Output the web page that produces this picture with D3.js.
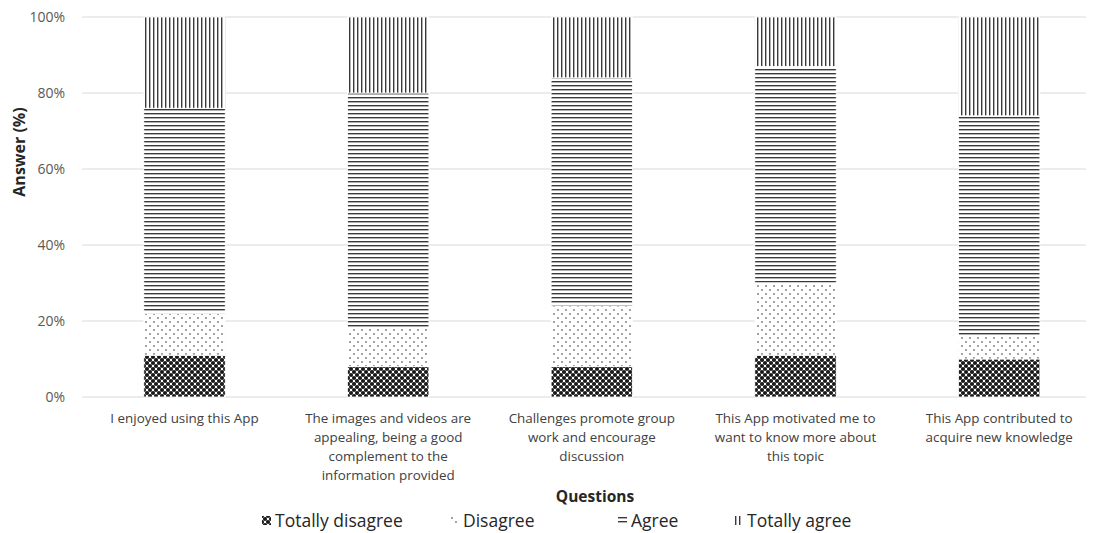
<!DOCTYPE html>
<html>
<head>
<meta charset="utf-8">
<script src="https://cdn.jsdelivr.net/npm/d3@7"></script>
<style>
  body { margin: 0; background: #fff; }
  svg { display: block; font-family: "Open Sans", "Noto Sans", sans-serif; }
</style>
</head>
<body>
<div id="chart"></div>
<script>
const categories = [
  ["I enjoyed using this App"],
  ["The images and videos are", "appealing, being a good", "complement to the", "information provided"],
  ["Challenges promote group", "work and encourage", "discussion"],
  ["This App motivated me to", "want to know more about", "this topic"],
  ["This App contributed to", "acquire new knowledge"]
];
const seriesNames = ["Totally disagree", "Disagree", "Agree", "Totally agree"];
const totallyDisagree = [11, 8, 8, 11, 10];
const disagree = [11, 10, 16, 19, 6];
const agree = [54, 62, 60, 57, 58];
const totallyAgree = [24, 20, 16, 13, 26];
const yTicks = [0, 20, 40, 60, 80, 100];

const keys = ["td", "d", "a", "ta"];
const rows = categories.map((c, i) => ({
  idx: i,
  td: totallyDisagree[i],
  d: disagree[i],
  a: agree[i],
  ta: totallyAgree[i]
}));

const width = 1094;
const height = 533;
const margin = { top: 17, right: 8, bottom: 136, left: 82 };

const svg = d3.select("#chart")
  .append("svg")
  .attr("width", width)
  .attr("height", height);

// fill patterns
const defs = svg.append("defs");

const pTd = defs.append("pattern").attr("id", "p-td")
  .attr("patternUnits", "userSpaceOnUse").attr("width", 6).attr("height", 6);
pTd.append("rect").attr("width", 6).attr("height", 6).attr("fill", "#fff");
[[0, 0], [6, 0], [0, 6], [6, 6], [3, 3]].forEach(([cx, cy]) => {
  pTd.append("circle").attr("cx", cx).attr("cy", cy).attr("r", 2.1).attr("fill", "#1a1a1a");
});

const pD = defs.append("pattern").attr("id", "p-d")
  .attr("patternUnits", "userSpaceOnUse").attr("width", 8).attr("height", 8);
pD.append("rect").attr("width", 8).attr("height", 8).attr("fill", "#fff");
[[2, 2], [6, 6]].forEach(([cx, cy]) => {
  pD.append("circle").attr("cx", cx).attr("cy", cy).attr("r", 0.9).attr("fill", "#777");
});

const pA = defs.append("pattern").attr("id", "p-a")
  .attr("patternUnits", "userSpaceOnUse").attr("width", 4).attr("height", 4);
pA.append("rect").attr("width", 4).attr("height", 4).attr("fill", "#fff");
pA.append("rect").attr("y", 1).attr("width", 4).attr("height", 1.4).attr("fill", "#3a3a3a");

const pTa = defs.append("pattern").attr("id", "p-ta")
  .attr("patternUnits", "userSpaceOnUse").attr("width", 4).attr("height", 4);
pTa.append("rect").attr("width", 4).attr("height", 4).attr("fill", "#fff");
pTa.append("rect").attr("x", 1).attr("width", 1.4).attr("height", 4).attr("fill", "#3a3a3a");

const fills = { td: "url(#p-td)", d: "url(#p-d)", a: "url(#p-a)", ta: "url(#p-ta)" };

const x = d3.scaleBand()
  .domain(rows.map((d) => d.idx))
  .range([margin.left + 0.7, 1101])
  .paddingInner(0.6)
  .paddingOuter(0.3);

const y = d3.scaleLinear()
  .domain([0, 100])
  .range([height - margin.bottom, margin.top]);

// gridlines
svg.append("g")
  .selectAll("line")
  .data(yTicks)
  .join("line")
  .attr("x1", margin.left)
  .attr("x2", width - margin.right)
  .attr("y1", (d) => y(d))
  .attr("y2", (d) => y(d))
  .attr("stroke", "#d9d9d9")
  .attr("stroke-width", 1);

// y axis labels
svg.append("g")
  .attr("transform", `translate(${margin.left - 14},0)`)
  .call(d3.axisLeft(y).tickValues(yTicks).tickSize(0).tickFormat((d) => d + "%"))
  .call((g) => g.select(".domain").remove())
  .call((g) => g.selectAll("text")
    .attr("font-size", 14)
    .attr("fill", "#595959")
    .attr("font-family", "'Open Sans', sans-serif"));

// stacked bars
const stacked = d3.stack().keys(keys)(rows);

svg.append("g")
  .selectAll("g")
  .data(stacked)
  .join("g")
  .attr("fill", (s) => fills[s.key])
  .selectAll("rect")
  .data((s) => s)
  .join("rect")
  .attr("x", (d) => x(d.data.idx))
  .attr("y", (d) => y(d[1]))
  .attr("width", x.bandwidth())
  .attr("height", (d) => y(d[0]) - y(d[1]))
  .attr("stroke", "#fff")
  .attr("stroke-width", 0.8);

// category labels
const catLabels = svg.append("g")
  .selectAll("text")
  .data(rows)
  .join("text")
  .attr("text-anchor", "middle")
  .attr("font-size", 13.4)
  .attr("fill", "#404040");

catLabels.selectAll("tspan")
  .data((d) => categories[d.idx].map((line) => ({ line, idx: d.idx })))
  .join("tspan")
  .attr("x", (d) => x(d.idx) + x.bandwidth() / 2)
  .attr("y", (d, i) => 423 + i * 19)
  .text((d) => d.line);

// axis titles
svg.append("text")
  .attr("x", 595)
  .attr("y", 502)
  .attr("text-anchor", "middle")
  .attr("font-size", 15.5)
  .attr("font-weight", 700)
  .attr("fill", "#262626")
  .text("Questions");

svg.append("text")
  .attr("transform", `translate(25, 152) rotate(-90)`)
  .attr("text-anchor", "middle")
  .attr("font-size", 16)
  .attr("font-weight", 700)
  .attr("fill", "#262626")
  .text("Answer (%)");

// legend
const legendX = [262, 450, 618, 734];
const legend = svg.append("g")
  .selectAll("g")
  .data(seriesNames)
  .join("g")
  .attr("transform", (d, i) => `translate(${legendX[i]}, 516)`);

legend.append("rect")
  .attr("width", 9)
  .attr("height", 9)
  .attr("fill", (d, i) => fills[keys[i]]);

legend.append("text")
  .attr("x", 13)
  .attr("y", 10.5)
  .attr("font-size", 17.5)
  .attr("fill", "#262626")
  .text((d) => d);
</script>
</body>
</html>
